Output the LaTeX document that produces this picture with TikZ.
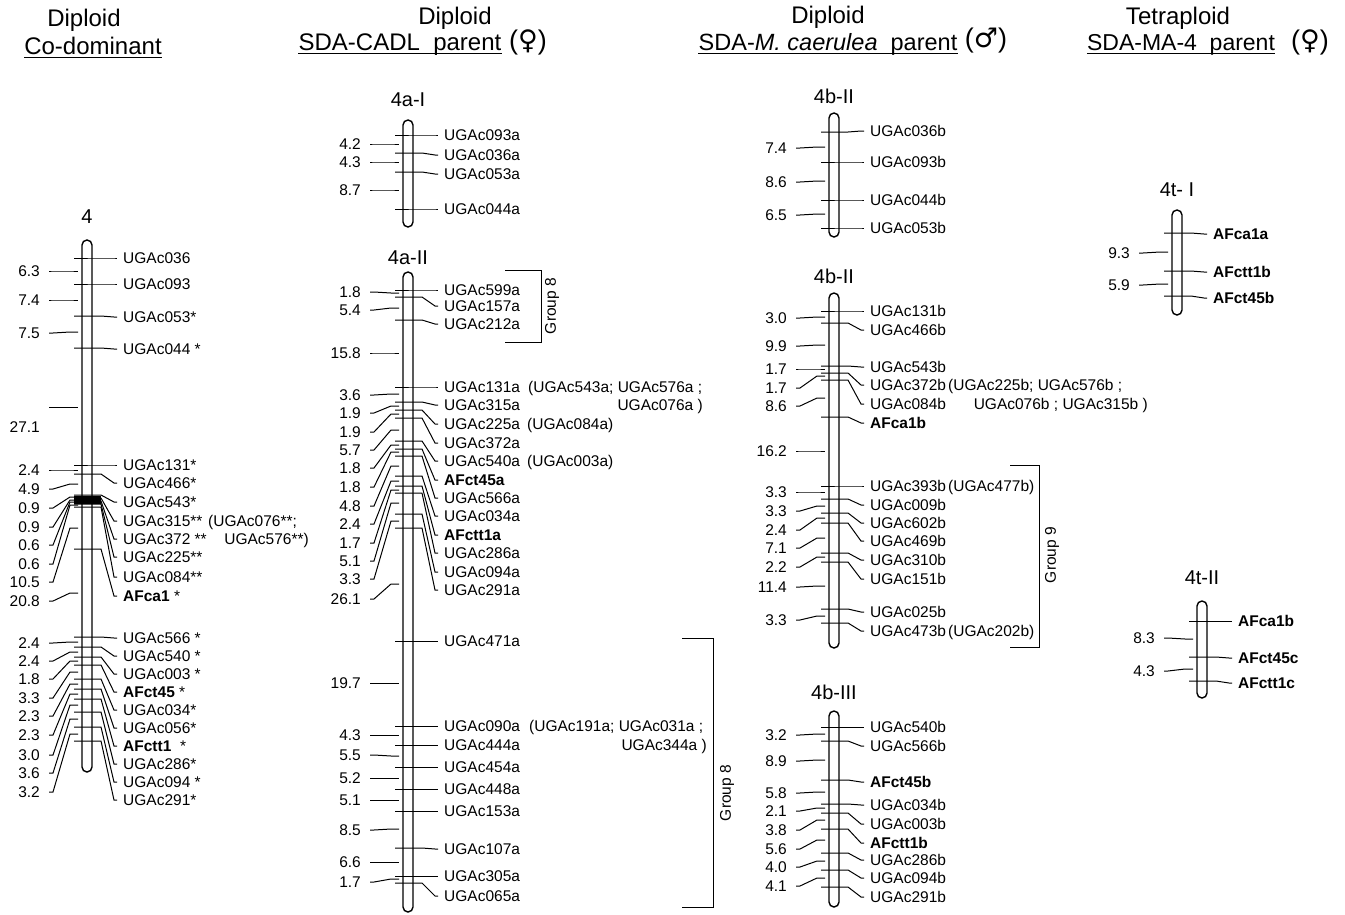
\documentclass[tikz,border=0pt]{standalone}
\usepackage{fontspec}
\setmainfont{Liberation Sans}
\newfontfamily\symfont{DejaVu Sans}
\newcounter{mkc}
\newcounter{dsc}
\newcommand\Mk[5][lab]{\stepcounter{mkc}\edef\mkn{mk\arabic{mkc}}%
  \node[#1] (\mkn) at ({#2+36},#4) {#5};%
  \draw[mline] ({#2-13},#3) -- ({#2+14},#3) -- ({#2+27},#4) -- ([xshift=-6pt]\mkn.west);}
\newcommand\Ds[4]{\stepcounter{dsc}\edef\dsn{ds\arabic{dsc}}%
  \node[dlab] (\dsn) at ({#1-47},#2) {#4};%
  \draw[mline] ([xshift=9pt]\dsn.east) -- ({#1-34},#2) -- ({#1-17},#3) -- ({#1-9},#3);}
\newcommand\Chr[6]{\draw[bar] ({#2-5},#3) rectangle ({#2+5},#4);%
  \node[ttl] (#1) at (#2,#6) {#5};}
\begin{document}
\begin{tikzpicture}[x=1pt,y=-1pt,
  bar/.style={draw, line width=1.4pt, rounded corners=5pt},
  mline/.style={line width=1pt},
  lab/.style={anchor=west, inner sep=0pt, font=\fontsize{15.5}{17}\selectfont},
  blab/.style={lab, font=\fontsize{15.5}{17}\selectfont\bfseries},
  plab/.style={anchor=base west, inner sep=0pt, font=\fontsize{15.5}{17}\selectfont},
  prlab/.style={plab, anchor=base east},
  dlab/.style={anchor=east, inner sep=0pt, font=\fontsize{15.5}{17}\selectfont},
  ttl/.style={inner sep=0pt, font=\fontsize{20}{22}\selectfont},
  hdr/.style={inner sep=0pt, font=\fontsize{24}{26}\selectfont},
  sym/.style={inner sep=0pt, font=\fontsize{27}{29}\selectfont},
  uline/.style={line width=1pt},
  grp/.style={inner sep=0pt, rotate=90, font=\fontsize{15.5}{17}\selectfont},
]
\useasboundingbox (0,0) rectangle (1345,914);
% ---------------- headers
\node[hdr] (h1) at (84,20) {Diploid};
\node[hdr] (h2) at (93,46) {Co-dominant};
\draw[uline] ([yshift=-3pt]h2.base west) -- ([yshift=-3pt]h2.base east);
\node[hdr] (h3) at (455,18) {Diploid};
\node[hdr] (h4) at (400,45) {SDA-CADL\ \ parent};
\draw[uline] ([yshift=-3pt]h4.base west) -- ([yshift=-3pt]h4.base east);
\node[sym] (h5) at (528,42) {({\symfont ♀})};
\node[hdr] (h6) at (828,17) {Diploid};
\node[hdr, font=\fontsize{23.5}{26}\selectfont] (h7) at (828,44) {SDA-\textit{M.\ caerulea}\ \ parent};
\draw[uline] ([yshift=-3pt]h7.base west) -- ([yshift=-3pt]h7.base east);
\node[sym] (h8) at (986,41) {({\symfont ♂})};
\node[hdr] (h9) at (1178,18) {Tetraploid};
\node[hdr, font=\fontsize{23}{26}\selectfont] (h10) at (1181,45) {SDA-MA-4\ \ parent};
\draw[uline] ([yshift=-3pt]h10.base west) -- ([yshift=-3pt]h10.base east);
\node[sym] (h11) at (1310,42) {({\symfont ♀})};
% ---------------- chromosome 4 (co-dominant)
\Chr{c4}{87}{240}{772}{4}{217}
\Mk{87}{258}{258}{UGAc036}
\Mk{87}{284}{284}{UGAc093}
\Mk{87}{316}{317}{UGAc053*}
\Mk{87}{348}{349}{UGAc044 *}
\Mk{87}{465}{465}{UGAc131*}
\Mk{87}{474}{483}{UGAc466*}
\Mk{87}{495}{502}{UGAc543*}
\Mk{87}{498}{521}{UGAc315**}
\Mk{87}{501}{539}{UGAc372 **}
\Mk{87}{504}{557}{UGAc225**}
\Mk{87}{507}{577}{UGAc084**}
\fill (74,496) rectangle (101,504);
\Mk[blab]{87}{549}{596}{AFca1 {\mdseries *}}
\Mk{87}{637}{638}{UGAc566 *}
\Mk{87}{647}{656}{UGAc540 *}
\Mk{87}{657}{674}{UGAc003 *}
\Mk[blab]{87}{665}{692}{AFct45 {\mdseries *}}
\Mk{87}{679}{710}{UGAc034*}
\Mk{87}{689}{728}{UGAc056*}
\Mk[blab]{87}{699}{746}{AFctt1 \ {\mdseries *}}
\Mk{87}{712}{764}{UGAc286*}
\Mk{87}{727}{782}{UGAc094 *}
\Mk{87}{741}{800}{UGAc291*}
\node[plab] (c4p1) at (208,526.5) {(UGAc076**;};
\node[prlab] (c4p2) at (309,544.5) {UGAc576**)};
\Ds{87}{271}{271}{6.3}
\Ds{87}{300}{300}{7.4}
\Ds{87}{333}{332}{7.5}
\node[dlab] (c4d27) at (40,427) {27.1};
\draw[mline] (49,407) -- (78,407);
\Ds{87}{470}{470}{2.4}
\Ds{87}{489}{484}{4.9}
\Ds{87}{508}{497}{0.9}
\Ds{87}{527}{500}{0.9}
\Ds{87}{545}{502}{0.6}
\Ds{87}{564}{505}{0.6}
\Ds{87}{582}{528}{10.5}
\Ds{87}{601}{593}{20.8}
\Ds{87}{643}{642}{2.4}
\Ds{87}{661}{652}{2.4}
\Ds{87}{679}{661}{1.8}
\Ds{87}{698}{672}{3.3}
\Ds{87}{716}{684}{2.3}
\Ds{87}{735}{694}{2.3}
\Ds{87}{755}{705}{3.0}
\Ds{87}{773}{719}{3.6}
\Ds{87}{792}{734}{3.2}
% ---------------- 4a-I
\Chr{c4aI}{408}{120}{227}{4a-I}{100}
\Mk{408}{135}{135}{UGAc093a}
\Mk{408}{153}{155}{UGAc036a}
\Mk{408}{172}{174}{UGAc053a}
\Mk{408}{209}{209}{UGAc044a}
\Ds{408}{144}{144}{4.2}
\Ds{408}{162}{162}{4.3}
\Ds{408}{190}{190}{8.7}
% ---------------- 4a-II
\Chr{c4aII}{408}{272}{912}{4a-II}{258}
\Mk{408}{290}{290}{UGAc599a}
\Mk{408}{297}{306}{UGAc157a}
\Mk{408}{320}{324}{UGAc212a}
\Mk{408}{387}{387}{UGAc131a}
\Mk{408}{402}{405}{UGAc315a}
\Mk{408}{410}{424}{UGAc225a}
\Mk{408}{418}{443}{UGAc372a}
\Mk{408}{441}{461}{UGAc540a}
\Mk[blab]{408}{449}{480}{AFct45a}
\Mk{408}{456}{498}{UGAc566a}
\Mk{408}{476}{516}{UGAc034a}
\Mk[blab]{408}{486}{535}{AFctt1a}
\Mk{408}{493}{553}{UGAc286a}
\Mk{408}{514}{572}{UGAc094a}
\Mk{408}{528}{590}{UGAc291a}
\Mk{408}{641}{641}{UGAc471a}
\Mk{408}{726}{726}{UGAc090a}
\Mk{408}{745}{745}{UGAc444a}
\Mk{408}{767}{767}{UGAc454a}
\Mk{408}{789}{789}{UGAc448a}
\Mk{408}{811}{811}{UGAc153a}
\Mk{408}{848}{849}{UGAc107a}
\Mk{408}{876}{876}{UGAc305a}
\Mk{408}{883}{896}{UGAc065a}
\node[plab] (ap1) at (528,392.5) {(UGAc543a; UGAc576a ;};
\node[prlab] (ap2) at (703,410.5) {UGAc076a )};
\node[plab] (ap3) at (527,429.5) {(UGAc084a)};
\node[plab] (ap4) at (527,466.5) {(UGAc003a)};
\node[plab] (ap5) at (529,731.5) {(UGAc191a; UGAc031a ;};
\node[prlab] (ap6) at (707,750.5) {UGAc344a )};
\Ds{408}{292}{293}{1.8}
\Ds{408}{310}{308}{5.4}
\Ds{408}{353}{353}{15.8}
\Ds{408}{395}{394}{3.6}
\Ds{408}{413}{406}{1.9}
\Ds{408}{432}{414}{1.9}
\Ds{408}{450}{430}{5.7}
\Ds{408}{468}{445}{1.8}
\Ds{408}{487}{452}{1.8}
\Ds{408}{506}{466}{4.8}
\Ds{408}{524}{481}{2.4}
\Ds{408}{543}{490}{1.7}
\Ds{408}{561}{503}{5.1}
\Ds{408}{579}{521}{3.3}
\Ds{408}{599}{584}{26.1}
\Ds{408}{683}{683}{19.7}
\Ds{408}{735}{735}{4.3}
\Ds{408}{755}{756}{5.5}
\Ds{408}{778}{778}{5.2}
\Ds{408}{800}{800}{5.1}
\Ds{408}{830}{829}{8.5}
\Ds{408}{862}{862}{6.6}
\Ds{408}{882}{879}{1.7}
\draw[mline] (505,270) -- (541,270) -- (541,342) -- (505,342);
\node[grp] (g8a) at (552,306) {Group 8};
\draw[mline] (682,638) -- (713,638) -- (713,907) -- (682,907);
\node[grp] (g8b) at (727,793) {Group 8};
% ---------------- 4b-II (top)
\Chr{c4bIIa}{834}{113}{237}{4b-II}{96}
\Mk{834}{132}{131}{UGAc036b}
\Mk{834}{162}{162}{UGAc093b}
\Mk{834}{200}{200}{UGAc044b}
\Mk{834}{228}{228}{UGAc053b}
\Ds{834}{148}{147}{7.4}
\Ds{834}{182}{181}{8.6}
\Ds{834}{215}{214}{6.5}
% ---------------- 4b-II (second)
\Chr{c4bIIb}{834}{293}{648}{4b-II}{276}
\Mk{834}{311}{311}{UGAc131b}
\Mk{834}{323}{330}{UGAc466b}
\Mk{834}{366}{367}{UGAc543b}
\Mk{834}{373}{385}{UGAc372b}
\Mk{834}{380}{404}{UGAc084b}
\Mk[blab]{834}{417}{423}{AFca1b}
\Mk{834}{486}{486}{UGAc393b}
\Mk{834}{499}{505}{UGAc009b}
\Mk{834}{513}{523}{UGAc602b}
\Mk{834}{523}{541}{UGAc469b}
\Mk{834}{553}{560}{UGAc310b}
\Mk{834}{562}{579}{UGAc151b}
\Mk{834}{609}{612}{UGAc025b}
\Mk{834}{623}{631}{UGAc473b}
\node[plab] (bp1) at (948,390.5) {(UGAc225b; UGAc576b ;};
\node[prlab] (bp2) at (1148,409.5) {UGAc076b ; UGAc315b )};
\node[plab] (bp3) at (948,491.5) {(UGAc477b)};
\node[plab] (bp4) at (948,636.5) {(UGAc202b)};
\Ds{834}{318}{317}{3.0}
\Ds{834}{346}{345}{9.9}
\Ds{834}{369}{369}{1.7}
\Ds{834}{388}{376}{1.7}
\Ds{834}{406}{398}{8.6}
\Ds{834}{451}{451}{16.2}
\Ds{834}{492}{492}{3.3}
\Ds{834}{511}{506}{3.3}
\Ds{834}{530}{518}{2.4}
\Ds{834}{548}{538}{7.1}
\Ds{834}{567}{557}{2.2}
\Ds{834}{587}{586}{11.4}
\Ds{834}{620}{616}{3.3}
\draw[mline] (1010,465) -- (1039,465) -- (1039,647) -- (1010,647);
\node[grp] (g9) at (1052,555) {Group 9};
% ---------------- 4b-III
\Chr{c4bIII}{834}{711}{907}{4b-III}{692}
\Mk{834}{727}{727}{UGAc540b}
\Mk{834}{741}{746}{UGAc566b}
\Mk[blab]{834}{780}{782}{AFct45b}
\Mk{834}{804}{805}{UGAc034b}
\Mk{834}{813}{824}{UGAc003b}
\Mk[blab]{834}{829}{843}{AFctt1b}
\Mk{834}{853}{860}{UGAc286b}
\Mk{834}{870}{878}{UGAc094b}
\Mk{834}{887}{897}{UGAc291b}
\Ds{834}{735}{734}{3.2}
\Ds{834}{761}{760}{8.9}
\Ds{834}{793}{792}{5.8}
\Ds{834}{811}{808}{2.1}
\Ds{834}{830}{820}{3.8}
\Ds{834}{849}{840}{5.6}
\Ds{834}{867}{861}{4.0}
\Ds{834}{886}{878}{4.1}
% ---------------- 4t-I
\Chr{c4tI}{1177}{210}{315}{4t- I}{190}
\Mk[blab]{1177}{233}{234}{AFca1a}
\Mk[blab]{1177}{271}{272}{AFctt1b}
\Mk[blab]{1177}{296}{298}{AFct45b}
\Ds{1177}{253}{252}{9.3}
\Ds{1177}{285}{284}{5.9}
% ---------------- 4t-II
\Chr{c4tII}{1202}{601}{698}{4t-II}{578}
\Mk[blab]{1202}{621}{621}{AFca1b}
\Mk[blab]{1202}{657}{658}{AFct45c}
\Mk[blab]{1202}{681}{683}{AFctt1c}
\Ds{1202}{638}{639}{8.3}
\Ds{1202}{671}{669}{4.3}
\end{tikzpicture}
\end{document}
